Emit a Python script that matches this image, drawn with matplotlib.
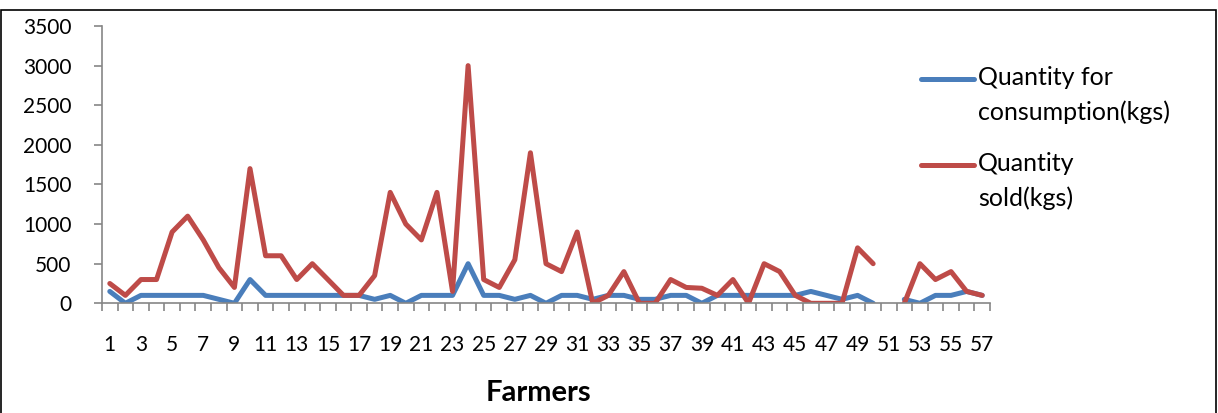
import numpy as np
import matplotlib
matplotlib.use("Agg")
import matplotlib.pyplot as plt
from matplotlib.patches import Rectangle
from matplotlib.lines import Line2D

# Farmer numbers and quantities (kgs); farmer 51 has no record
farmers = list(range(1, 58))
consumption = [150, 0, 100, 100, 100, 100, 100, 50, 0, 300,
               100, 100, 100, 100, 100, 100, 100, 50, 100, 0,
               100, 100, 100, 500, 100, 100, 50, 100, 0, 100,
               100, 50, 100, 100, 50, 50, 100, 100, 0, 100,
               100, 100, 100, 100, 100, 150, 100, 50, 100, 0,
               np.nan, 50, 0, 100, 100, 150, 100]
sold = [250, 100, 300, 300, 900, 1100, 800, 450, 200, 1700,
        600, 600, 300, 500, 300, 100, 100, 350, 1400, 1000,
        800, 1400, 150, 3000, 300, 200, 550, 1900, 500, 400,
        900, 0, 100, 400, 0, 0, 300, 200, 190, 100,
        300, 0, 500, 400, 100, 0, 0, 0, 700, 500,
        np.nan, 0, 500, 300, 400, 150, 100]
y_ticks = [0, 500, 1000, 1500, 2000, 2500, 3000, 3500]
series_names = ["Quantity for\nconsumption(kgs)", "Quantity\nsold(kgs)"]

blue = "#4A7EBB"
red = "#BE4B48"
axis_grey = "#868686"
font = ["Lato", "DejaVu Sans"]

fig = plt.figure(figsize=(12.18, 4.13), dpi=100)
fig.patches.append(Rectangle((0.001, -0.05), 0.997, 1.05 - 10 / 413,
                             transform=fig.transFigure, fill=False,
                             edgecolor="black", linewidth=1.2))

ax = fig.add_axes([102 / 1218, 1 - 303.3 / 413, 888 / 1218, (303.3 - 26) / 413])
ax.plot(farmers, consumption, color=blue, lw=3.6, solid_capstyle="round")
ax.plot(farmers, sold, color=red, lw=3.6, solid_capstyle="round")

ax.set_xlim(0.5, 57.5)
ax.set_ylim(0, 3500)
ax.set_yticks(y_ticks)
ax.set_yticklabels([str(v) for v in y_ticks], family=font, fontsize=15)
ax.set_xticks(farmers[::2])
ax.set_xticklabels([str(f) for f in farmers[::2]], family=font, fontsize=15)
ax.set_xticks(np.arange(0.5, 58, 1), minor=True)
ax.tick_params(axis="x", which="major", length=0, pad=23)
ax.tick_params(axis="x", which="minor", length=6, width=1.2, color=axis_grey)
ax.tick_params(axis="y", length=6, width=1.2, color=axis_grey, pad=16)

for side in ["top", "right"]:
    ax.spines[side].set_visible(False)
for side in ["left", "bottom"]:
    ax.spines[side].set_color(axis_grey)
    ax.spines[side].set_linewidth(1.2)

fig.text(538 / 1218, 1 - 393 / 413, "Farmers", ha="center", va="center",
         fontsize=21, fontweight="bold", family=font)

# legend drawn by hand: key line beside the first text line
for name, color, y in zip(series_names, [blue, red], [79, 165]):
    yf = 1 - y / 413
    fig.add_artist(Line2D([921 / 1218, 974 / 1218], [yf, yf], color=color,
                          lw=3.6, solid_capstyle="round"))
    fig.text(978 / 1218, yf + 13 / 413, name, ha="left", va="top",
             fontsize=18, family=font, linespacing=1.6)

fig.savefig("out.png", dpi=100)
